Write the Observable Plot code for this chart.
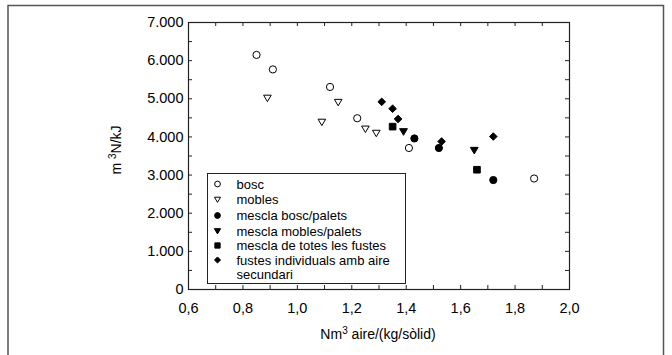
<!DOCTYPE html>
<html>
<head>
<meta charset="utf-8">
<script src="https://cdn.jsdelivr.net/npm/d3@7"></script>
<script src="https://cdn.jsdelivr.net/npm/@observablehq/plot@0.6"></script>
<style>
  html, body { margin: 0; padding: 0; background: #fff; }
  #chart { position: relative; width: 672px; height: 355px; }
  #chart svg { display: block; }
</style>
</head>
<body>
<div id="chart"></div>
<script>
// ---- data ----
const boscX = [0.85, 0.91, 1.12, 1.22, 1.41, 1.87];
const boscY = [6150, 5770, 5310, 4490, 3710, 2910];

const moblesX = [0.89, 1.09, 1.15, 1.25, 1.29];
const moblesY = [5020, 4390, 4910, 4210, 4100];

const boscPaletsX = [1.43, 1.52, 1.72];
const boscPaletsY = [3960, 3710, 2870];

const moblesPaletsX = [1.39, 1.65];
const moblesPaletsY = [4140, 3650];

const totesX = [1.35, 1.66];
const totesY = [4270, 3140];

const individualsX = [1.31, 1.35, 1.37, 1.53, 1.72];
const individualsY = [4920, 4740, 4470, 3880, 4010];

const seriesNames = [
  "bosc",
  "mobles",
  "mescla bosc/palets",
  "mescla mobles/palets",
  "mescla de totes les fustes",
  "fustes individuals amb aire\nsecundari"
];

const xTickLabels = [0.6, 0.8, 1.0, 1.2, 1.4, 1.6, 1.8, 2.0];
const xMinorTicks = [0.7, 0.8, 0.9, 1.0, 1.1, 1.2, 1.3, 1.4, 1.5, 1.6, 1.7, 1.8, 1.9];
const yTickLabels = [0, 1000, 2000, 3000, 4000, 5000, 6000, 7000];
const yMinorTicks = [500, 1000, 1500, 2000, 2500, 3000, 3500, 4000, 4500, 5000, 5500, 6000, 6500];

// ---- custom symbols ----
const downTriangle = {
  draw(ctx, size) {
    const r = Math.sqrt(size / Math.PI);
    ctx.moveTo(-r, -0.75 * r);
    ctx.lineTo(r, -0.75 * r);
    ctx.lineTo(0, 0.95 * r);
    ctx.closePath();
  }
};
const diamond = {
  draw(ctx, size) {
    const r = Math.sqrt(size / Math.PI);
    ctx.moveTo(0, -r);
    ctx.lineTo(r, 0);
    ctx.lineTo(0, r);
    ctx.lineTo(-r, 0);
    ctx.closePath();
  }
};
const square = {
  draw(ctx, size) {
    const r = Math.sqrt(size / Math.PI);
    ctx.rect(-r, -r, 2 * r, 2 * r);
  }
};
const circle = {
  draw(ctx, size) {
    const r = Math.sqrt(size / Math.PI);
    ctx.moveTo(r, 0);
    ctx.arc(0, 0, r, 0, 2 * Math.PI);
  }
};

const styles = [
  {symbol: circle, fill: "white", stroke: "black", r: 3.6},
  {symbol: downTriangle, fill: "white", stroke: "black", r: 3.8},
  {symbol: circle, fill: "black", stroke: "black", r: 3.6},
  {symbol: downTriangle, fill: "black", stroke: "black", r: 3.9},
  {symbol: square, fill: "black", stroke: "black", r: 3.3},
  {symbol: diamond, fill: "black", stroke: "black", r: 3.8}
];
const seriesX = [boscX, moblesX, boscPaletsX, moblesPaletsX, totesX, individualsX];
const seriesY = [boscY, moblesY, boscPaletsY, moblesPaletsY, totesY, individualsY];

const fmtX = d => d.toFixed(1).replace(".", ",");
const fmtY = d => d === 0 ? "0" : (d / 1000).toFixed(3);

const dotMarks = seriesX.map((xs, i) => {
  const s = styles[i];
  const data = xs.map((x, j) => ({x, y: seriesY[i][j]}));
  return Plot.dot(data, {x: "x", y: "y", symbol: s.symbol, r: s.r, fill: s.fill, stroke: s.stroke, strokeWidth: 1});
});

const plotH = 289 - 22;
const plotW = 569 - 188;

const chart = Plot.plot({
  width: 672,
  height: 355,
  marginLeft: 188,
  marginRight: 103,
  marginTop: 22,
  marginBottom: 66,
  style: {fontFamily: "'Liberation Sans', Arial, sans-serif", fontSize: "14px", background: "white", color: "black"},
  x: {domain: [0.6, 2.0]},
  y: {domain: [0, 7000]},
  marks: [
    Plot.frame({stroke: "#222", strokeWidth: 1.2}),
    Plot.axisX(xTickLabels, {tickSize: 0, tickPadding: 13, tickFormat: fmtX, label: null, fontSize: 14.5}),
    Plot.axisY(yTickLabels, {tickSize: 0, tickPadding: 5, tickFormat: fmtY, label: null, fontSize: 14.5}),
    Plot.tickX(xMinorTicks, {x: d => d, insetTop: plotH - 4, stroke: "#222"}),
    Plot.tickX(xMinorTicks, {x: d => d, insetBottom: plotH - 4, stroke: "#222"}),
    Plot.tickY(yMinorTicks, {y: d => d, insetRight: plotW - 4, stroke: "#222"}),
    Plot.tickY(yMinorTicks, {y: d => d, insetLeft: plotW - 4, stroke: "#222"}),
    ...dotMarks
  ]
});

document.getElementById("chart").appendChild(chart);

const svg = d3.select(chart);
const font = "'Liberation Sans', Arial, sans-serif";

// outer border
svg.append("path")
  .attr("d", "M8,355 L8,5.5 L663.5,5.5 L663.5,355")
  .attr("fill", "none").attr("stroke", "#555").attr("stroke-width", 1.5);

// y-axis title
const yt = svg.append("text")
  .attr("transform", "translate(121,150) rotate(-90)")
  .attr("text-anchor", "middle")
  .attr("font-family", font).attr("font-size", 14).attr("fill", "black");
yt.append("tspan").text("m ");
yt.append("tspan").attr("baseline-shift", "super").attr("font-size", 10).text("3");
yt.append("tspan").text("N/kJ");

// x-axis title
const xt = svg.append("text")
  .attr("x", 378).attr("y", 339)
  .attr("text-anchor", "middle")
  .attr("font-family", font).attr("font-size", 14).attr("fill", "black");
xt.append("tspan").text("Nm");
xt.append("tspan").attr("baseline-shift", "super").attr("font-size", 10).text("3");
xt.append("tspan").text(" aire/(kg/sòlid)");

// legend
const lg = svg.append("g").attr("text-anchor", "start");
lg.append("rect").attr("x", 207.5).attr("y", 173.5).attr("width", 198).attr("height", 110)
  .attr("fill", "white").attr("stroke", "#222").attr("stroke-width", 1);
const rowY = [184, 199.5, 215.5, 231, 245.5, 260];
seriesNames.forEach((name, i) => {
  const s = styles[i];
  const sz = Math.PI * Math.pow(s.r * 0.8, 2);
  lg.append("path")
    .attr("d", d3.symbol(s.symbol, sz)())
    .attr("transform", `translate(217.5,${rowY[i]})`)
    .attr("fill", s.fill).attr("stroke", s.stroke).attr("stroke-width", 1);
  const lines = name.split("\n");
  lines.forEach((ln, k) => {
    lg.append("text")
      .attr("x", 236.5).attr("y", rowY[i] + k * 14)
      .attr("dy", "0.35em")
      .attr("text-anchor", "start")
      .attr("font-family", font).attr("font-size", 13).attr("fill", "black")
      .text(ln);
  });
});
</script>
</body>
</html>
